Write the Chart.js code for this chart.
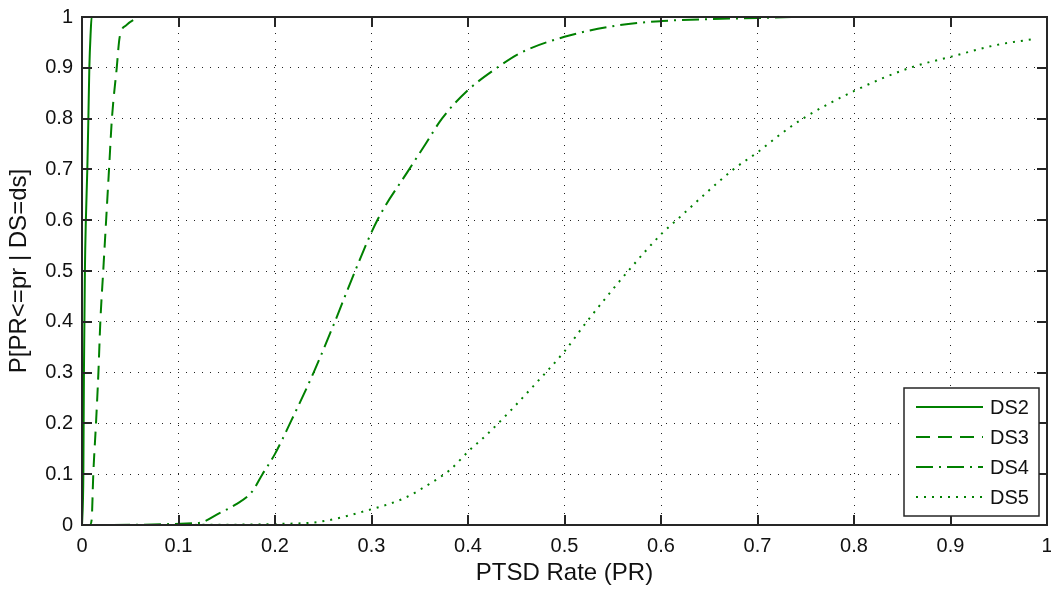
<!DOCTYPE html>
<html>
<head>
<meta charset="utf-8">
<script src="https://cdn.jsdelivr.net/npm/chart.js@4/dist/chart.umd.min.js"></script>
<style>
  body { margin: 0; background: #fff; }
  #wrap { width: 1051px; height: 592px; }
</style>
</head>
<body>
<div id="wrap"><canvas id="myChart" width="1051" height="592"></canvas></div>
<script>
// series (CDF curves)
const seriesNames = ["DS2", "DS3", "DS4", "DS5"];

const ds2X = [0, 0.001, 0.0014, 0.002, 0.003, 0.004, 0.0055, 0.0066, 0.0076, 0.009, 0.01, 0.017];
const ds2Y = [0, 0.05, 0.1, 0.3, 0.5, 0.6, 0.7, 0.8, 0.9, 0.97, 1, 1];

const ds3X = [0, 0.008, 0.01, 0.0117, 0.0145, 0.017, 0.019, 0.022, 0.025, 0.028, 0.031, 0.036, 0.039, 0.046, 0.053, 0.062, 0.07];
const ds3Y = [0, 0, 0.01, 0.1, 0.2, 0.3, 0.4, 0.5, 0.6, 0.7, 0.8, 0.9, 0.96, 0.984, 0.994, 1, 1];

const ds4X = [0, 0.12, 0.143, 0.159, 0.176, 0.187, 0.2, 0.2155, 0.24, 0.262, 0.283, 0.306, 0.339, 0.356, 0.373, 0.4, 0.43, 0.454, 0.5, 0.557, 0.601, 0.654, 0.7, 0.74];
const ds4Y = [0, 0.004, 0.024, 0.04, 0.065, 0.1, 0.14, 0.2, 0.3, 0.4, 0.5, 0.6, 0.7, 0.75, 0.8, 0.856, 0.9, 0.929, 0.961, 0.984, 0.992, 0.996, 0.998, 1];

const ds5X = [0.1, 0.2, 0.247, 0.298, 0.333, 0.361, 0.381, 0.402, 0.419, 0.443, 0.467, 0.5, 0.523, 0.566, 0.601, 0.616, 0.675, 0.701, 0.723, 0.747, 0.802, 0.858, 0.901, 0.948, 0.984];
const ds5Y = [0, 0.002, 0.0066, 0.03, 0.052, 0.082, 0.108, 0.148, 0.177, 0.223, 0.272, 0.342, 0.4, 0.5, 0.574, 0.6, 0.7, 0.735, 0.768, 0.8, 0.856, 0.9, 0.922, 0.945, 0.956];

const xTickLabels = ["0", "0.1", "0.2", "0.3", "0.4", "0.5", "0.6", "0.7", "0.8", "0.9", "1"];
const yTickLabels = ["0", "0.1", "0.2", "0.3", "0.4", "0.5", "0.6", "0.7", "0.8", "0.9", "1"];

const green = "#008000";
const dashes = [[], [14, 8], [17, 6, 2, 6], [2, 6]];

function toPoints(xs, ys) {
  return xs.map((x, i) => ({ x: x, y: ys[i] }));
}

const allX = [ds2X, ds3X, ds4X, ds5X];
const allY = [ds2Y, ds3Y, ds4Y, ds5Y];

const FONT = "'Liberation Sans', Arial, Helvetica, sans-serif";

// inward ticks, axes box and legend, drawn MATLAB style
const matlabBox = {
  id: "matlabBox",
  beforeDraw(chart) {
    const ctx = chart.ctx;
    ctx.save();
    ctx.fillStyle = "#fff";
    ctx.fillRect(0, 0, chart.width, chart.height);
    ctx.restore();
  },
  afterDraw(chart) {
    const ctx = chart.ctx;
    const a = chart.chartArea;
    const xs = chart.scales.x, ys = chart.scales.y;
    ctx.save();
    ctx.strokeStyle = "#262626";
    ctx.lineWidth = 2;
    ctx.beginPath();
    xs.ticks.forEach(t => {
      const px = Math.round(xs.getPixelForValue(t.value));
      ctx.moveTo(px, a.bottom); ctx.lineTo(px, a.bottom - 10);
      ctx.moveTo(px, a.top); ctx.lineTo(px, a.top + 10);
    });
    ys.ticks.forEach(t => {
      const py = Math.round(ys.getPixelForValue(t.value));
      ctx.moveTo(a.left, py); ctx.lineTo(a.left + 10, py);
      ctx.moveTo(a.right, py); ctx.lineTo(a.right - 10, py);
    });
    ctx.stroke();
    ctx.strokeRect(a.left, a.top, a.right - a.left, a.bottom - a.top);

    // legend
    const bw = 135, bh = 128;
    const bx = a.right - 8 - bw, by = a.bottom - 9 - bh;
    ctx.fillStyle = "#fff";
    ctx.fillRect(bx, by, bw, bh);
    ctx.lineWidth = 1.5;
    ctx.strokeStyle = "#262626";
    ctx.strokeRect(bx, by, bw, bh);
    ctx.font = "20px " + FONT;
    ctx.textBaseline = "middle";
    ctx.textAlign = "left";
    chart.data.datasets.forEach((d, i) => {
      const yy = by + 19 + i * 30;
      ctx.strokeStyle = d.borderColor;
      ctx.lineWidth = 2;
      ctx.setLineDash(d.borderDash);
      ctx.beginPath();
      ctx.moveTo(bx + 12, yy);
      ctx.lineTo(bx + 79, yy);
      ctx.stroke();
      ctx.setLineDash([]);
      ctx.fillStyle = "#111";
      ctx.fillText(d.label, bx + 86, yy + 1);
    });
    ctx.restore();
  }
};

const ctx = document.getElementById("myChart");
const myChart = new Chart(ctx, {
  type: "line",
  data: {
    datasets: seriesNames.map((name, i) => ({
      label: name,
      data: toPoints(allX[i], allY[i]),
      borderColor: green,
      borderWidth: 2,
      borderDash: dashes[i],
      pointRadius: 0,
      fill: false,
      cubicInterpolationMode: "monotone",
    })),
  },
  options: {
    responsive: false,
    animation: false,
    layout: { padding: { top: 17, right: 4, left: 0, bottom: 0 } },
    plugins: { legend: { display: false }, tooltip: { enabled: false } },
    scales: {
      x: {
        type: "linear",
        min: 0,
        max: 1,
        ticks: {
          stepSize: 0.1,
          padding: 9,
          maxRotation: 0,
          autoSkip: false,
          color: "#111",
          font: { family: FONT, size: 20 },
          callback: (v, i) => xTickLabels[i],
        },
        grid: { color: "#222", lineWidth: 1, drawTicks: false },
        border: { display: false, dash: [1, 7] },
        title: {
          display: true,
          text: "PTSD Rate (PR)",
          color: "#111",
          font: { family: FONT, size: 24 },
          padding: { top: 0, bottom: 4 },
        },
        afterFit(scale) {
          scale.height = 67;
          scale.paddingLeft = 0;
          scale.paddingRight = 0;
        },
      },
      y: {
        min: 0,
        max: 1,
        ticks: {
          stepSize: 0.1,
          padding: 9,
          color: "#111",
          font: { family: FONT, size: 20 },
          callback: (v, i) => yTickLabels[i],
        },
        grid: { color: "#222", lineWidth: 1, drawTicks: false },
        border: { display: false, dash: [1, 7] },
        title: {
          display: true,
          text: "P[PR<=pr | DS=ds]",
          color: "#111",
          font: { family: FONT, size: 24 },
          padding: { top: 5, bottom: 0 },
        },
        afterFit(scale) {
          scale.width = 82;
          scale.paddingTop = 0;
          scale.paddingBottom = 0;
        },
      },
    },
  },
  plugins: [matlabBox],
});
</script>
</body>
</html>
